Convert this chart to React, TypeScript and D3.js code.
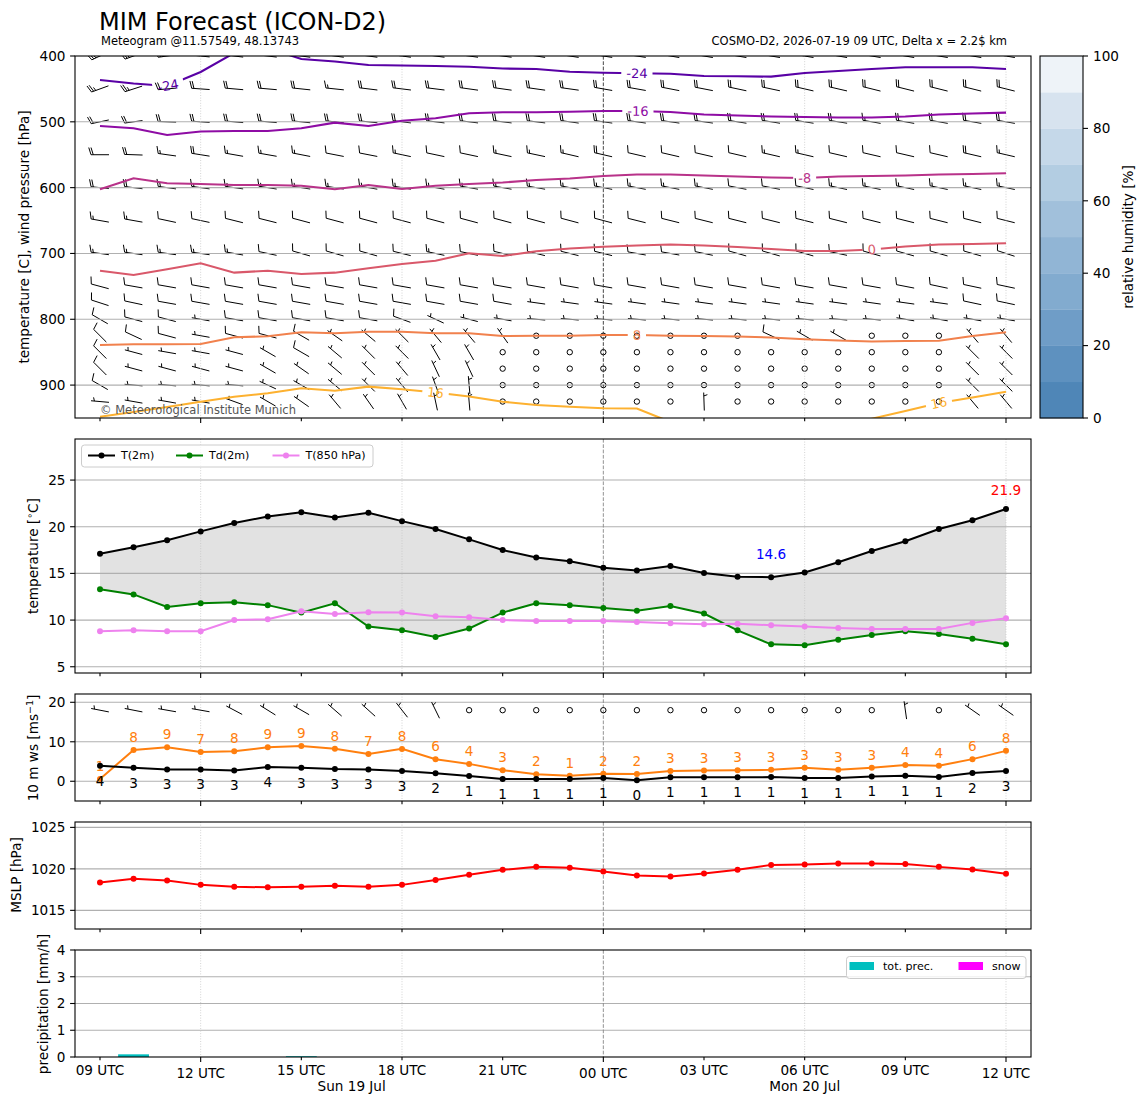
import React from 'react';
import * as d3 from 'd3';

// ---------------- DATA ----------------
const forecastHours = [0,1,2,3,4,5,6,7,8,9,10,11,12,13,14,15,16,17,18,19,20,21,22,23,24,25,26,27];

const tickHours = [0,3,6,9,12,15,18,21,24,27];
const tickLabels = ['09 UTC','12 UTC','15 UTC','18 UTC','21 UTC','00 UTC','03 UTC','06 UTC','09 UTC','12 UTC'];
const majorTickHours = [3,15,27];
const gridHours = [3,9,15,21,27];
const midnightHour = 15;
const dayLabelText = ['Sun 19 Jul','Mon 20 Jul'];
const dayLabelHour = [7.5,21];

// 2 m temperature, dew point, 850 hPa temperature [°C]
const t2m = [17.1,17.8,18.55,19.5,20.4,21.1,21.55,21.0,21.5,20.6,19.75,18.65,17.5,16.7,16.3,15.6,15.3,15.8,15.05,14.65,14.6,15.1,16.2,17.4,18.45,19.75,20.7,21.9];
const td2m = [13.3,12.75,11.4,11.8,11.9,11.6,10.8,11.8,9.3,8.9,8.2,9.1,10.8,11.8,11.6,11.3,11.0,11.5,10.7,8.9,7.4,7.3,7.9,8.4,8.8,8.5,8.0,7.4];
const t850 = [8.8,8.9,8.8,8.8,10.0,10.1,10.95,10.65,10.85,10.8,10.4,10.3,10.0,9.9,9.9,9.9,9.8,9.65,9.55,9.6,9.45,9.3,9.15,9.05,9.05,9.05,9.7,10.2];

// 10 m wind speed and gusts [m/s]
const ws10 = [3.9,3.4,3.0,3.0,2.7,3.6,3.45,3.1,3.0,2.6,2.0,1.35,0.6,0.6,0.6,0.8,0.25,1.0,1.0,1.0,1.05,0.8,0.8,1.2,1.4,1.1,2.1,2.6];
const gust10 = [0.6,7.9,8.6,7.4,7.6,8.6,8.9,8.25,6.9,8.2,5.6,4.4,2.8,1.8,1.4,1.9,1.85,2.6,2.7,2.8,2.9,3.4,2.9,3.45,4.1,3.95,5.6,7.7];
const barbSpd10 = [5,5,5,5,5,5,5,5,5,5,5,0,0,0,0,0,0,0,0,0,0,0,0,0,5,0,5,5];
const barbDir10 = [281,281,280,280,298,302,300,311,312,322,334,0,0,0,0,0,0,0,0,0,0,0,0,0,352,0,305,305];

// mean sea level pressure [hPa]
const mslp = [1018.35,1018.8,1018.6,1018.07,1017.83,1017.78,1017.83,1017.95,1017.83,1018.07,1018.67,1019.28,1019.88,1020.24,1020.12,1019.67,1019.19,1019.07,1019.43,1019.88,1020.48,1020.52,1020.64,1020.64,1020.6,1020.24,1019.92,1019.4];

// precipitation [mm/h]
const totPrec = [0,0.1,0,0,0,0,0.03,0,0,0,0,0,0,0,0,0,0,0,0,0,0,0,0,0,0,0,0,0];
const snowPrec = [0,0,0,0,0,0,0,0,0,0,0,0,0,0,0,0,0,0,0,0,0,0,0,0,0,0,0,0];

// isotherms: pressure [hPa] of each temperature level at each hour
const contourLevels = [-24,-16,-8,0,8,16];
const iso_m24 = [436.5,441.8,445.6,424.3,395.4,387.8,404.6,408.4,413.7,414.4,415.2,416.3,419,419.7,423.9,425.4,426.3,426.9,430.4,430.8,431.4,425.8,422.8,419.8,417.2,417.2,417.2,419.8];
const iso_m16 = [506.3,509.8,520,514.7,514,514,509.8,501.3,506.3,498.3,494.7,487,485.5,485.5,484.6,483.6,483.6,485,488.9,490.4,491.9,492.7,493.4,493.4,491.9,488.9,487.4,486.1];
const iso_m8 = [602.5,585.8,593.4,594.5,596,596,597.1,602.5,596,602.1,597.1,594.5,592.2,588.4,586.1,582.3,580,580,581.6,583.1,584.6,585.4,583.1,582.3,581.6,580,579.3,578.2];
const iso_0 = [726.2,732.7,724.1,715,729.2,726.2,731.2,729.2,722.6,716,711,699.8,703.9,696.7,692.5,689.7,687.9,686.4,687.9,690.2,693.2,696.3,696.3,694,689.4,686.4,685.6,684.6];
const iso_8 = [839.1,838,838,837.6,827.4,825.9,819.8,821.3,818.9,818.9,821.3,821.3,825.4,825,825,823.9,823.9,825,825.4,826.2,827.7,830.4,832.2,833.8,833,832.6,825.4,819.8];
const iso_16 = [948,940.9,933.3,925.2,917.6,912.5,904.9,908.5,902.4,906.4,911.3,917.3,925.2,930.2,932.8,935.2,935.6,956,968,972,972,968,962,951,939.3,927.2,918.8,910];
const contourLabelHours = [[2.03,16.0],[16.03],[21.0],[23.0],[16.0],[10.0,25.0]];

// wind barbs aloft (barb units, direction in degrees)
const barbLevels = [400,450,500,550,600,650,700,750,775,800,825,850,875,900,925];
const spd400 = [25,25,25,25,25,25,25,25,25,25,25,25,25,25,25,25,25,25,25,25,25,25,25,25,25,25,25,25];
const dir400 = [245,250,262,276,277,277,278,278,278,278,278,278,278,279,279,279,279,280,280,280,280,280,280,280,280,280,280,280];
const spd450 = [25,25,20,20,20,20,20,15,20,20,20,20,20,20,20,20,20,20,20,20,20,20,20,20,20,20,20,20];
const dir450 = [250,252,265,274,275,275,276,276,277,277,277,278,278,278,278,280,280,281,281,282,282,283,283,284,284,284,284,284];
const spd500 = [20,20,20,20,20,20,20,20,20,20,20,20,20,20,20,20,20,20,20,20,20,20,20,15,20,20,20,20];
const dir500 = [258,262,272,274,275,275,276,276,276,277,277,277,277,277,278,278,278,278,278,279,279,279,279,280,280,280,280,280];
const spd550 = [20,20,15,20,15,15,15,10,10,15,10,10,15,15,15,20,10,10,10,10,15,15,10,10,10,10,20,15];
const dir550 = [270,272,278,279,280,280,281,281,281,282,282,282,282,282,283,283,283,283,283,283,283,283,283,283,283,283,283,283];
const spd600 = [20,20,15,15,15,15,15,15,15,15,15,15,15,15,15,15,15,15,15,10,10,10,15,15,15,15,15,15];
const dir600 = [276,277,278,278,278,279,279,279,280,280,280,280,280,280,281,281,281,281,281,281,281,282,282,282,282,282,282,282];
const spd650 = [15,15,10,10,10,10,10,10,10,10,10,10,10,10,10,10,10,10,10,10,10,10,10,10,10,10,10,10];
const dir650 = [280,280,282,282,284,284,285,285,285,285,285,285,285,285,285,285,284,284,284,284,284,284,284,284,284,284,284,284];
const spd700 = [15,15,15,15,15,10,10,10,10,10,15,10,10,10,10,10,10,10,10,10,10,10,10,10,10,10,10,10];
const dir700 = [278,278,278,278,280,282,286,286,286,284,282,282,284,284,284,284,280,280,282,286,286,286,282,286,286,286,286,288];
const spd750 = [10,10,10,10,10,10,10,10,10,10,10,10,10,10,10,10,10,10,10,10,10,10,10,10,10,10,10,10];
const dir750 = [285,280,280,280,280,280,280,280,280,280,280,280,280,280,280,280,280,280,280,280,280,280,280,280,281,282,282,282];
const spd775 = [10,10,10,10,10,10,10,10,10,10,10,10,10,5,5,5,5,5,5,5,5,5,5,5,5,5,10,10];
const dir775 = [288,282,280,280,280,280,280,280,280,280,280,280,280,278,278,278,278,278,278,278,278,278,278,278,278,278,282,282];
const spd800 = [10,10,10,5,10,10,10,10,10,10,5,5,5,5,5,5,5,5,5,5,5,5,5,5,5,5,5,5];
const dir800 = [300,285,285,280,280,280,280,280,280,290,295,285,280,275,275,275,275,275,275,275,275,275,275,275,280,280,280,280];
const spd825 = [10,10,10,5,10,10,10,5,5,5,5,5,5,0,0,0,0,0,0,0,10,5,5,0,0,0,5,5];
const dir825 = [315,295,285,280,285,285,300,305,310,315,320,320,325,0,0,0,0,0,0,0,295,300,300,0,0,0,320,320];
const spd850 = [10,5,5,5,5,5,10,5,5,5,5,5,0,0,0,0,0,0,0,0,0,0,0,0,0,0,5,5];
const dir850 = [315,285,280,280,285,300,300,310,315,315,330,330,0,0,0,0,0,0,0,0,0,0,0,0,0,0,315,315];
const spd875 = [10,5,5,5,5,5,5,5,5,5,5,5,0,0,0,0,0,0,0,0,0,0,0,0,0,0,5,5];
const dir875 = [315,285,285,285,285,300,305,310,315,320,335,335,0,0,0,0,0,0,0,0,0,0,0,0,0,0,315,315];
const spd900 = [10,5,5,5,5,5,5,5,5,5,5,5,0,0,0,0,0,0,0,0,0,0,0,0,0,0,5,5];
const dir900 = [300,275,275,275,275,295,300,310,315,320,340,355,0,0,0,0,0,0,0,0,0,0,0,0,0,0,315,315];
const spd925 = [5,5,5,5,5,5,5,5,5,5,5,5,0,0,0,0,0,0,5,0,0,0,0,0,0,0,5,5];
const dir925 = [275,280,280,280,290,300,305,320,325,330,348,355,0,0,0,0,0,0,358,0,0,0,0,0,0,0,320,320];

const rhTicks = [0,20,40,60,80,100];
const rhBands = [0,10,20,30,40,50,60,70,80,90,100];
const rhColors = ['#4f86b7','#5e91bf','#6f9dc7','#82abcf','#91b5d5','#a1c0db','#b3cde2','#c5d8e9','#d7e3ef','#eef3f8'];

// ---------------- LAYOUT ----------------
const FONT = 'DejaVu Sans, Verdana, sans-serif';
const FS = 13.6;
const XL = 75, XR = 1031;
const panels = {
  top: [56, 418], temp: [439, 673], wind: [694, 801], mslp: [822, 929], prec: [950, 1057],
};
const xScale = d3.scaleLinear().domain([0, 27]).range([100, 1006]);
const yP = d3.scaleLinear().domain([400, 950]).range([56, 418]);
const yT = d3.scaleLinear().domain([4.33, 29.4]).range([673, 439]);
const yW = d3.scaleLinear().domain([-5, 22.1]).range([801, 694]);
const yM = d3.scaleLinear().domain([1012.75, 1025.65]).range([929, 822]);
const yR = d3.scaleLinear().domain([0, 4]).range([1057, 950]);
const yC = d3.scaleLinear().domain([0, 100]).range([418, 56]);

const BARB_L = 18;

function barbD(cx: number, cy: number, spd: number, dir: number, L: number): string {
  const mag = Math.round(spd / 5) * 5;
  if (mag <= 0) {
    const r = 0.15 * L;
    return `M${cx + r},${cy}A${r},${r} 0 1 0 ${cx - r},${cy}A${r},${r} 0 1 0 ${cx + r},${cy}`;
  }
  const a = (dir * Math.PI) / 180;
  const sx = Math.sin(a), sy = -Math.cos(a);
  const fx = -sy, fy = sx;
  const pt = (f: number, b: number) => `${(cx + b * sx + f * fx).toFixed(2)},${(cy + b * sy + f * fy).toFixed(2)}`;
  const H = 0.4 * L, W = 0.25 * L, sp = 0.125 * L, endy = -L / 2;
  let d = `M${pt(0, endy)}L${pt(0, endy + L)}`;
  let m = mag;
  const nfl = Math.floor(m / 50); m -= nfl * 50;
  const nb = Math.floor(m / 10);
  const half = m - nb * 10 >= 5;
  let off = L;
  for (let i = 0; i < nfl; i++) {
    d += `M${pt(0, endy + off)}L${pt(H, endy - W / 2 + off)}L${pt(0, endy - W + off)}Z`;
    off -= W + sp;
  }
  for (let i = 0; i < nb; i++) {
    d += `M${pt(0, endy + off)}L${pt(H, endy + off + W / 2)}`;
    off -= sp;
  }
  if (half) {
    if (off === L) off -= 1.5 * sp;
    d += `M${pt(0, endy + off)}L${pt(H / 2, endy + off + W / 4)}`;
  }
  return d;
}

function charW(s: string): number {
  let w = 0;
  for (const c of s) w += c === '-' ? 0.361 : 0.636;
  return w;
}

function VGrid({ y0, y1, midColor }: { y0: number; y1: number; midColor: string }) {
  return (
    <g>
      {gridHours.map((h) =>
        h === midnightHour ? (
          <line key={h} x1={xScale(h)} x2={xScale(h)} y1={y0} y2={y1} stroke={midColor} strokeWidth={0.9} strokeDasharray="3.7,1.6" />
        ) : (
          <line key={h} x1={xScale(h)} x2={xScale(h)} y1={y0} y2={y1} stroke="#c4c4c4" strokeWidth={0.75} strokeDasharray="1,1.6" />
        )
      )}
    </g>
  );
}

function HGrid({ ticks, scale }: { ticks: number[]; scale: (v: number) => number }) {
  return (
    <g>
      {ticks.map((t) => (
        <line key={t} x1={XL} x2={XR} y1={scale(t)} y2={scale(t)} stroke="#b0b0b0" strokeWidth={1.1} />
      ))}
    </g>
  );
}

function YAxis({ ticks, scale, fmt }: { ticks: number[]; scale: (v: number) => number; fmt?: (v: number) => string }) {
  return (
    <g>
      {ticks.map((t) => (
        <g key={t}>
          <line x1={XL - 4.9} x2={XL} y1={scale(t)} y2={scale(t)} stroke="#000" strokeWidth={1.1} />
          <text x={XL - 9.5} y={scale(t)} dy="0.36em" textAnchor="end" fontSize={FS} fill="#000">
            {fmt ? fmt(t) : String(t)}
          </text>
        </g>
      ))}
    </g>
  );
}

function XTicks({ yb }: { yb: number }) {
  return (
    <g>
      {tickHours.map((h) => (
        <line key={h} x1={xScale(h)} x2={xScale(h)} y1={yb} y2={yb + (majorTickHours.includes(h) ? 4.9 : 3.3)} stroke="#000" strokeWidth={1.1} />
      ))}
    </g>
  );
}

function Frame({ y0, y1 }: { y0: number; y1: number }) {
  return <rect x={XL} y={y0} width={XR - XL} height={y1 - y0} fill="none" stroke="#000" strokeWidth={1.1} />;
}

function YLabel({ x, y, children }: { x: number; y: number; children: React.ReactNode }) {
  return (
    <text transform={`translate(${x},${y}) rotate(-90)`} x={0} y={4.8} textAnchor="middle" fontSize={FS} fill="#000">
      {children}
    </text>
  );
}

function pAt(arr: number[], t: number): number {
  const i0 = Math.max(0, Math.min(26, Math.floor(t)));
  const f = t - i0;
  return arr[i0] * (1 - f) + arr[i0 + 1] * f;
}

export default function App() {
  const [tT, tB] = panels.top;
  const contourArrays = [iso_m24, iso_m16, iso_m8, iso_0, iso_8, iso_16];
  const plasmaT = (lev: number) => d3.interpolatePlasma(0.16 + (lev + 24) * 0.0167);

  const contourLine = d3.line<number>().x((_, i) => xScale(forecastHours[i])).y((p) => yP(p));

  const contourLabels = contourArrays.map((arr, k) =>
    contourLabelHours[k].map((t) => {
      const x = xScale(t);
      const y = yP(pAt(arr, t));
      const xa = xScale(t - 0.5), ya = yP(pAt(arr, Math.max(0, t - 0.5)));
      const xb = xScale(t + 0.5), yb = yP(pAt(arr, Math.min(27, t + 0.5)));
      let ang = (Math.atan2(yb - ya, xb - xa) * 180) / Math.PI;
      if (ang > 90) ang -= 180;
      if (ang < -90) ang += 180;
      const text = String(contourLevels[k]);
      const w = charW(text) * 13 + 10;
      return { x, y, ang, text, w };
    })
  );

  const barbSpeedRows = [spd400, spd450, spd500, spd550, spd600, spd650, spd700, spd750, spd775, spd800, spd825, spd850, spd875, spd900, spd925];
  const barbDirRows = [dir400, dir450, dir500, dir550, dir600, dir650, dir700, dir750, dir775, dir800, dir825, dir850, dir875, dir900, dir925];
  let barbPath = '';
  barbLevels.forEach((lev, li) => {
    forecastHours.forEach((h, i) => {
      barbPath += barbD(xScale(h), yP(lev), barbSpeedRows[li][i], barbDirRows[li][i], BARB_L);
    });
  });
  let barbPath10 = '';
  forecastHours.forEach((h, i) => {
    barbPath10 += barbD(xScale(h), yW(18), barbSpd10[i], barbDir10[i], BARB_L);
  });

  // temperature panel
  const area = d3.area<number>().x((_, i) => xScale(forecastHours[i])).y0((_, i) => yT(td2m[i])).y1((v) => yT(v));
  const lineT = d3.line<number>().x((_, i) => xScale(forecastHours[i])).y((v) => yT(v));
  const lineW = d3.line<number>().x((_, i) => xScale(forecastHours[i])).y((v) => yW(v));
  const lineM = d3.line<number>().x((_, i) => xScale(forecastHours[i])).y((v) => yM(v));
  const iMax = t2m.indexOf(d3.max(t2m) as number);
  let iMin = 0;
  t2m.forEach((v, i) => { if (v <= t2m[iMin]) iMin = i; });

  const tempSeries = [
    { data: t2m, color: '#000000', name: 'T(2m)' },
    { data: td2m, color: '#008000', name: 'Td(2m)' },
    { data: t850, color: '#ee82ee', name: 'T(850 hPa)' },
  ];
  const legendX = [88, 176, 272.5];

  return (
    <div style={{ position: 'absolute', left: 0, top: 0, width: 1148, height: 1105 }}>
      <svg width={1148} height={1105} style={{ display: 'block', background: '#ffffff' }} fontFamily={FONT}>
        <defs>
          <clipPath id="clipTop"><rect x={XL} y={tT} width={XR - XL} height={tB - tT} /></clipPath>
          <clipPath id="clipTemp"><rect x={XL} y={panels.temp[0]} width={XR - XL} height={panels.temp[1] - panels.temp[0]} /></clipPath>
          {contourLabels.map((labs, k) => (
            <mask key={k} id={`cmask${k}`} maskUnits="userSpaceOnUse" x={0} y={0} width={1148} height={1105}>
              <rect x={0} y={0} width={1148} height={1105} fill="white" />
              {labs.map((l, j) => (
                <rect key={j} x={l.x - l.w / 2} y={l.y - 7} width={l.w} height={14} fill="black" transform={`rotate(${l.ang} ${l.x} ${l.y})`} />
              ))}
            </mask>
          ))}
        </defs>

        {/* Titles */}
        <text x={99} y={29.5} fontSize={24} fill="#000">MIM Forecast (ICON-D2)</text>
        <text x={101} y={44.5} fontSize={11.5} fill="#000">Meteogram @11.57549, 48.13743</text>
        <text x={1007} y={45} fontSize={11.5} fill="#000" textAnchor="end">COSMO-D2, 2026-07-19 09 UTC, Delta x = 2.2$ km</text>

        {/* ---------- TOP PANEL ---------- */}
        <g clipPath="url(#clipTop)">
          <path d={barbPath} fill="none" stroke="#000" strokeWidth={1} strokeLinecap="butt" />
          <HGrid ticks={[500, 600, 700, 800, 900]} scale={yP} />
          <VGrid y0={tT} y1={tB} midColor="#333" />
          {contourArrays.map((arr, k) => (
            <path key={k} d={contourLine(arr) as string} fill="none" stroke={plasmaT(contourLevels[k])} strokeWidth={2.1} mask={`url(#cmask${k})`} />
          ))}
          {contourLabels.map((labs, k) =>
            labs.map((l, j) => (
              <text key={`${k}-${j}`} x={l.x} y={l.y} dy="0.36em" textAnchor="middle" fontSize={13} fill={plasmaT(contourLevels[k])} transform={`rotate(${l.ang} ${l.x} ${l.y})`}>
                {l.text}
              </text>
            ))
          )}
          <text x={100} y={414} fontSize={11.5} fill="#555">© Meteorological Institute Munich</text>
        </g>
        <Frame y0={tT} y1={tB} />
        <YAxis ticks={[400, 500, 600, 700, 800, 900]} scale={yP} />
        <XTicks yb={tB} />
        <YLabel x={24} y={237}>temperature [C], wind pressure [hPa]</YLabel>

        {/* colorbar */}
        {rhColors.map((c, i) => (
          <rect key={i} x={1040} y={yC(rhBands[i + 1])} width={43} height={yC(rhBands[i]) - yC(rhBands[i + 1]) + 0.3} fill={c} />
        ))}
        <rect x={1040} y={56} width={43} height={362} fill="none" stroke="#000" strokeWidth={1.1} />
        {rhTicks.map((t) => (
          <g key={t}>
            <line x1={1083} x2={1088} y1={yC(t)} y2={yC(t)} stroke="#000" strokeWidth={1.1} />
            <text x={1093} y={yC(t)} dy="0.36em" fontSize={FS} fill="#000">{t}</text>
          </g>
        ))}
        <YLabel x={1128} y={237}>relative humidity [%]</YLabel>

        {/* ---------- TEMPERATURE PANEL ---------- */}
        <g clipPath="url(#clipTemp)">
          <path d={area(t2m) as string} fill="#e2e2e2" />
          <HGrid ticks={[5, 10, 15, 20, 25]} scale={yT} />
          <VGrid y0={panels.temp[0]} y1={panels.temp[1]} midColor="#888" />
          {tempSeries.map((s) => (
            <g key={s.name}>
              <path d={lineT(s.data) as string} fill="none" stroke={s.color} strokeWidth={2} />
              {s.data.map((v, i) => (
                <circle key={i} cx={xScale(forecastHours[i])} cy={yT(v)} r={3} fill={s.color} />
              ))}
            </g>
          ))}
          <text x={xScale(forecastHours[iMax])} y={yT(t2m[iMax] + 2.0)} dy="0.36em" textAnchor="middle" fontSize={FS} fill="#ff0000">{t2m[iMax].toFixed(1)}</text>
          <text x={xScale(forecastHours[iMin])} y={yT(t2m[iMin] + 2.5)} dy="0.36em" textAnchor="middle" fontSize={FS} fill="#0000ff">{t2m[iMin].toFixed(1)}</text>
        </g>
        {/* legend */}
        <rect x={81.5} y={445} width={291.5} height={22} rx={3} fill="#fff" fillOpacity={0.8} stroke="#cccccc" strokeWidth={1} />
        {tempSeries.map((s, k) => (
          <g key={s.name}>
            <line x1={legendX[k]} x2={legendX[k] + 27} y1={455.5} y2={455.5} stroke={s.color} strokeWidth={2} />
            <circle cx={legendX[k] + 13.5} cy={455.5} r={3} fill={s.color} />
            <text x={legendX[k] + 33} y={455.5} dy="0.36em" fontSize={11.1} fill="#000">{s.name}</text>
          </g>
        ))}
        <Frame y0={panels.temp[0]} y1={panels.temp[1]} />
        <YAxis ticks={[5, 10, 15, 20, 25]} scale={yT} />
        <XTicks yb={panels.temp[1]} />
        <YLabel x={33} y={556}>
          <tspan>temperature [</tspan>
          <tspan dy={-5} fontSize={9.5}>∘</tspan>
          <tspan dy={5}>C]</tspan>
        </YLabel>

        {/* ---------- WIND PANEL ---------- */}
        <HGrid ticks={[0, 10, 20]} scale={yW} />
        <VGrid y0={panels.wind[0]} y1={panels.wind[1]} midColor="#888" />
        <path d={barbPath10} fill="none" stroke="#000" strokeWidth={1} />
        <path d={lineW(gust10) as string} fill="none" stroke="#ff7f0e" strokeWidth={2} />
        {gust10.map((v, i) => (
          <g key={`g${i}`}>
            <circle cx={xScale(forecastHours[i])} cy={yW(v)} r={3} fill="#ff7f0e" />
            <text x={xScale(forecastHours[i])} y={yW(v) - 12.7} dy="0.36em" textAnchor="middle" fontSize={FS} fill="#ff7f0e">{Math.round(v)}</text>
          </g>
        ))}
        <path d={lineW(ws10) as string} fill="none" stroke="#000" strokeWidth={2} />
        {ws10.map((v, i) => (
          <g key={`w${i}`}>
            <circle cx={xScale(forecastHours[i])} cy={yW(v)} r={3} fill="#000" />
            <text x={xScale(forecastHours[i])} y={yW(v) + 15} dy="0.36em" textAnchor="middle" fontSize={FS} fill="#000">{Math.round(v)}</text>
          </g>
        ))}
        <Frame y0={panels.wind[0]} y1={panels.wind[1]} />
        <YAxis ticks={[0, 10, 20]} scale={yW} />
        <XTicks yb={panels.wind[1]} />
        <YLabel x={33} y={748}>
          <tspan>10 m ws [ms</tspan>
          <tspan dy={-5} fontSize={9.5}>−1</tspan>
          <tspan dy={5}>]</tspan>
        </YLabel>

        {/* ---------- MSLP PANEL ---------- */}
        <HGrid ticks={[1015, 1020, 1025]} scale={yM} />
        <VGrid y0={panels.mslp[0]} y1={panels.mslp[1]} midColor="#888" />
        <path d={lineM(mslp) as string} fill="none" stroke="#ff0000" strokeWidth={2} />
        {mslp.map((v, i) => (
          <circle key={i} cx={xScale(forecastHours[i])} cy={yM(v)} r={3} fill="#ff0000" />
        ))}
        <Frame y0={panels.mslp[0]} y1={panels.mslp[1]} />
        <YAxis ticks={[1015, 1020, 1025]} scale={yM} />
        <XTicks yb={panels.mslp[1]} />
        <YLabel x={16} y={875}>MSLP [hPa]</YLabel>

        {/* ---------- PRECIP PANEL ---------- */}
        {totPrec.map((v, i) =>
          v > 0 ? (
            <rect key={`p${i}`} x={xScale(forecastHours[i] - 0.46)} y={yR(v)} width={xScale(0.92) - xScale(0)} height={yR(0) - yR(v)} fill="#00bfbf" />
          ) : null
        )}
        {snowPrec.map((v, i) =>
          v > 0 ? (
            <rect key={`s${i}`} x={xScale(forecastHours[i] - 0.46)} y={yR(v)} width={xScale(0.92) - xScale(0)} height={yR(0) - yR(v)} fill="#ff00ff" />
          ) : null
        )}
        <HGrid ticks={[1, 2, 3]} scale={yR} />
        <VGrid y0={panels.prec[0]} y1={panels.prec[1]} midColor="#888" />
        <rect x={846.5} y={956.5} width={179.5} height={22} rx={3} fill="#fff" fillOpacity={0.8} stroke="#cccccc" strokeWidth={1} />
        <rect x={849.5} y={962} width={24.5} height={8} fill="#00bfbf" />
        <text x={883} y={966.5} dy="0.36em" fontSize={11.1} fill="#000">tot. prec.</text>
        <rect x={958.5} y={962} width={24.5} height={8} fill="#ff00ff" />
        <text x={992} y={966.5} dy="0.36em" fontSize={11.1} fill="#000">snow</text>
        <Frame y0={panels.prec[0]} y1={panels.prec[1]} />
        <YAxis ticks={[0, 1, 2, 3, 4]} scale={yR} />
        <XTicks yb={panels.prec[1]} />
        <YLabel x={43} y={1004}>precipitation [mm/h]</YLabel>

        {/* x tick labels */}
        {tickHours.map((h, k) => (
          <text key={h} x={xScale(h)} y={majorTickHours.includes(h) ? 1077.5 : 1075} textAnchor="middle" fontSize={FS} fill="#000">
            {tickLabels[k]}
          </text>
        ))}
        {dayLabelText.map((t, k) => (
          <text key={t} x={xScale(dayLabelHour[k])} y={1091} textAnchor="middle" fontSize={FS} fill="#000">{t}</text>
        ))}
      </svg>
    </div>
  );
}
